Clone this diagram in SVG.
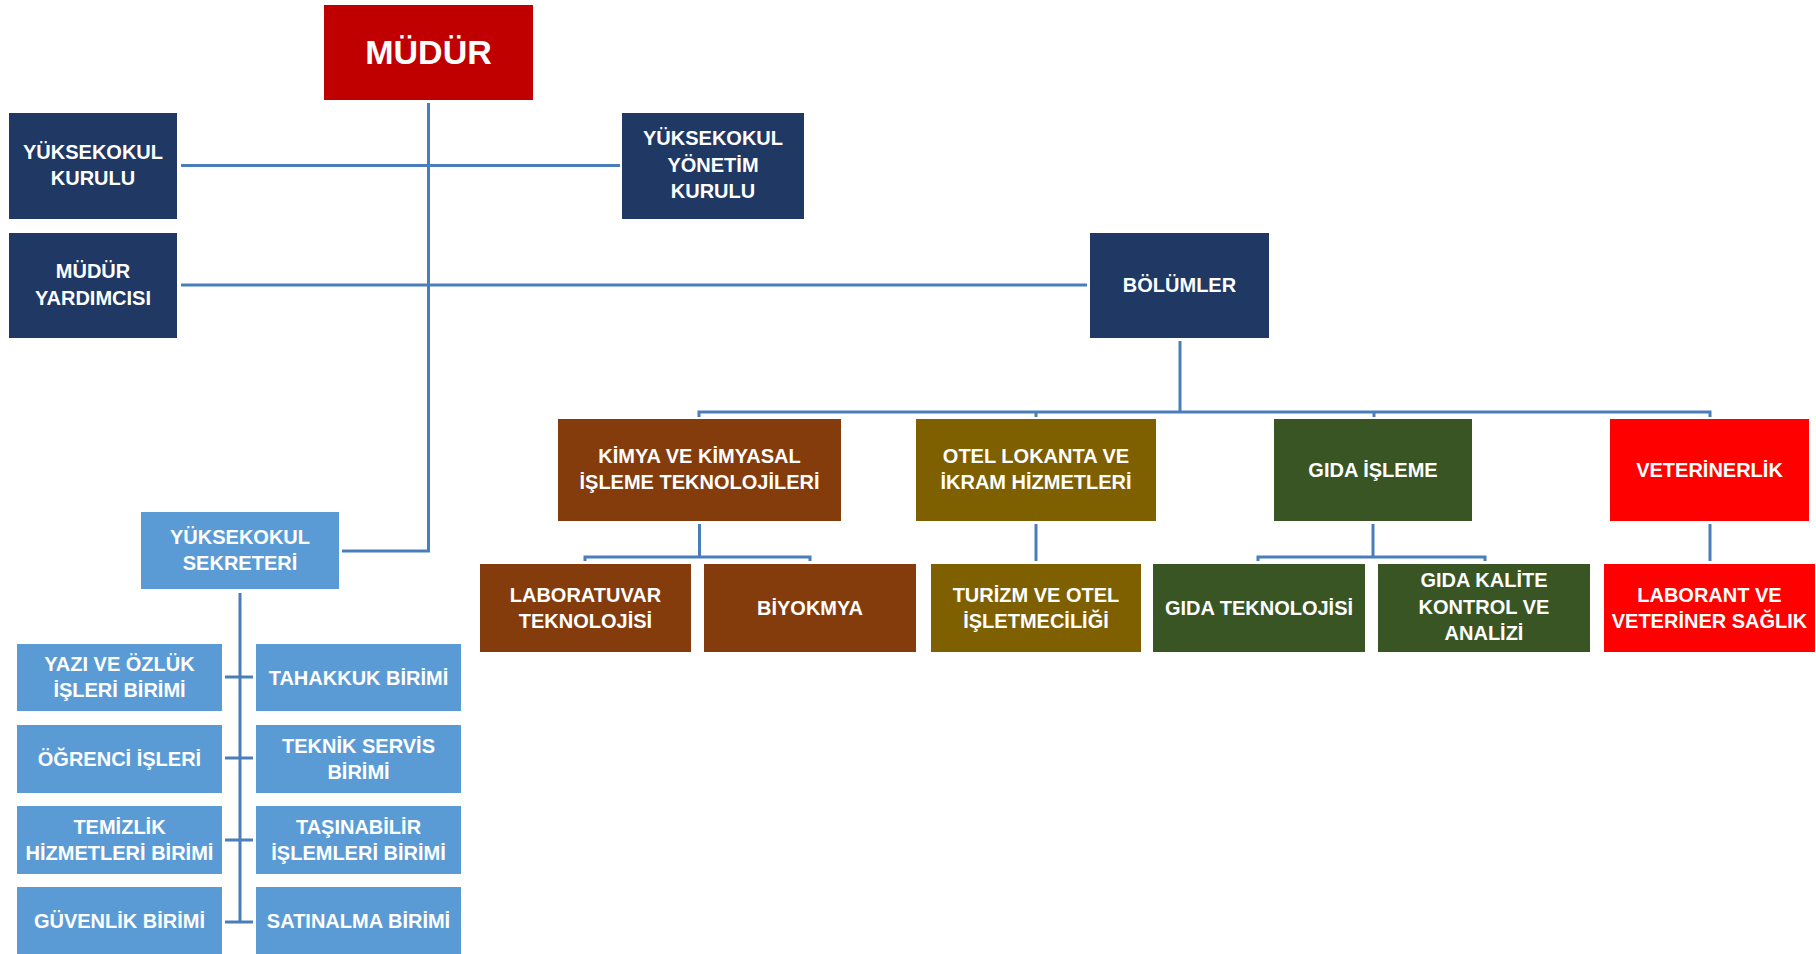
<svg xmlns="http://www.w3.org/2000/svg" width="1816" height="954" viewBox="0 0 1816 954">
<style>
.t{font-family:"Liberation Sans",Arial,sans-serif;font-weight:bold;font-size:20px;fill:#fff;text-anchor:middle}
.big{font-size:34px}
.c{fill:none;stroke:#4A7EBB;stroke-width:3}
.navy{fill:#203864}
.red{fill:#C00000}
.blue{fill:#5B9BD5}
.brown{fill:#843C0C}
.olive{fill:#7F6000}
.green{fill:#3A5524}
.vred{fill:#FF0000}
</style>
<rect width="1816" height="954" fill="#fff"/>
<g id="connectors">
<polyline class="c" points="428.5,103 428.5,551 342,551"/>
<line class="c" x1="181" y1="165.5" x2="620" y2="165.5"/>
<line class="c" x1="181" y1="285" x2="1087" y2="285"/>
<line class="c" x1="1180" y1="341" x2="1180" y2="412"/>
<polyline class="c" points="699,417 699,412 1710,412 1710,417"/>
<line class="c" x1="1036" y1="412" x2="1036" y2="417"/>
<line class="c" x1="1374" y1="412" x2="1374" y2="417"/>
<line class="c" x1="699.5" y1="524" x2="699.5" y2="557"/>
<polyline class="c" points="585,561 585,557 810,557 810,561"/>
<line class="c" x1="1036" y1="524" x2="1036" y2="561"/>
<line class="c" x1="1373" y1="524" x2="1373" y2="557"/>
<polyline class="c" points="1258,561 1258,557 1485,557 1485,561"/>
<line class="c" x1="1710" y1="524" x2="1710" y2="561"/>
<line class="c" x1="240" y1="593" x2="240" y2="922"/>
<line class="c" x1="225" y1="677" x2="253" y2="677"/>
<line class="c" x1="225" y1="758" x2="253" y2="758"/>
<line class="c" x1="225" y1="840" x2="253" y2="840"/>
<line class="c" x1="225" y1="922" x2="253" y2="922"/>
</g>
<g id="mudur"><rect class="red" x="324" y="5" width="209" height="95"/><text class="t big" x="428.5" y="64">MÜDÜR</text></g>
<g id="yuksekokul-kurulu"><rect class="navy" x="9" y="113" width="168" height="106"/><text class="t" x="93" y="159">YÜKSEKOKUL</text><text class="t" x="93" y="185">KURULU</text></g>
<g id="yonetim-kurulu"><rect class="navy" x="622" y="113" width="182" height="106"/><text class="t" x="713" y="145">YÜKSEKOKUL</text><text class="t" x="713" y="172">YÖNETİM</text><text class="t" x="713" y="198">KURULU</text></g>
<g id="mudur-yardimcisi"><rect class="navy" x="9" y="233" width="168" height="105"/><text class="t" x="93" y="278">MÜDÜR</text><text class="t" x="93" y="305">YARDIMCISI</text></g>
<g id="bolumler"><rect class="navy" x="1090" y="233" width="179" height="105"/><text class="t" x="1179.5" y="292">BÖLÜMLER</text></g>
<g id="sekreter"><rect class="blue" x="141" y="512" width="198" height="77"/><text class="t" x="240" y="544">YÜKSEKOKUL</text><text class="t" x="240" y="570">SEKRETERİ</text></g>
<g id="yazi"><rect class="blue" x="17" y="644" width="205" height="67"/><text class="t" x="119.5" y="671">YAZI VE ÖZLÜK</text><text class="t" x="119.5" y="697">İŞLERİ BİRİMİ</text></g>
<g id="tahakkuk"><rect class="blue" x="256" y="644" width="205" height="67"/><text class="t" x="358.5" y="684.5">TAHAKKUK BİRİMİ</text></g>
<g id="ogrenci"><rect class="blue" x="17" y="725" width="205" height="68"/><text class="t" x="119.5" y="766">ÖĞRENCİ İŞLERİ</text></g>
<g id="teknik"><rect class="blue" x="256" y="725" width="205" height="68"/><text class="t" x="358.5" y="753">TEKNİK SERVİS</text><text class="t" x="358.5" y="779">BİRİMİ</text></g>
<g id="temizlik"><rect class="blue" x="17" y="806" width="205" height="68"/><text class="t" x="119.5" y="834">TEMİZLİK</text><text class="t" x="119.5" y="860">HİZMETLERİ BİRİMİ</text></g>
<g id="tasinabilir"><rect class="blue" x="256" y="806" width="205" height="68"/><text class="t" x="358.5" y="834">TAŞINABİLİR</text><text class="t" x="358.5" y="860">İŞLEMLERİ BİRİMİ</text></g>
<g id="guvenlik"><rect class="blue" x="17" y="887" width="205" height="68"/><text class="t" x="119.5" y="928">GÜVENLİK BİRİMİ</text></g>
<g id="satinalma"><rect class="blue" x="256" y="887" width="205" height="68"/><text class="t" x="358.5" y="928">SATINALMA BİRİMİ</text></g>
<g id="kimya"><rect class="brown" x="558" y="419" width="283" height="102"/><text class="t" x="699.5" y="463">KİMYA VE KİMYASAL</text><text class="t" x="699.5" y="489">İŞLEME TEKNOLOJİLERİ</text></g>
<g id="otel"><rect class="olive" x="916" y="419" width="240" height="102"/><text class="t" x="1036" y="463">OTEL LOKANTA VE</text><text class="t" x="1036" y="489">İKRAM HİZMETLERİ</text></g>
<g id="gida"><rect class="green" x="1274" y="419" width="198" height="102"/><text class="t" x="1373" y="477">GIDA İŞLEME</text></g>
<g id="veterinerlik"><rect class="vred" x="1610" y="419" width="199" height="102"/><text class="t" x="1709.5" y="477">VETERİNERLİK</text></g>
<g id="laboratuvar"><rect class="brown" x="480" y="564" width="211" height="88"/><text class="t" x="585.5" y="602">LABORATUVAR</text><text class="t" x="585.5" y="628">TEKNOLOJİSİ</text></g>
<g id="biyokmya"><rect class="brown" x="704" y="564" width="212" height="88"/><text class="t" x="810" y="615">BİYOKMYA</text></g>
<g id="turizm"><rect class="olive" x="931" y="564" width="210" height="88"/><text class="t" x="1036" y="602">TURİZM VE OTEL</text><text class="t" x="1036" y="628">İŞLETMECİLİĞİ</text></g>
<g id="gida-teknolojisi"><rect class="green" x="1153" y="564" width="212" height="88"/><text class="t" x="1259" y="615">GIDA TEKNOLOJİSİ</text></g>
<g id="gida-kalite"><rect class="green" x="1378" y="564" width="212" height="88"/><text class="t" x="1484" y="587">GIDA KALİTE</text><text class="t" x="1484" y="614">KONTROL VE</text><text class="t" x="1484" y="640">ANALİZİ</text></g>
<g id="laborant"><rect class="vred" x="1604" y="564" width="211" height="88"/><text class="t" x="1709.5" y="602">LABORANT VE</text><text class="t" x="1709.5" y="628">VETERİNER SAĞLIK</text></g>
</svg>
